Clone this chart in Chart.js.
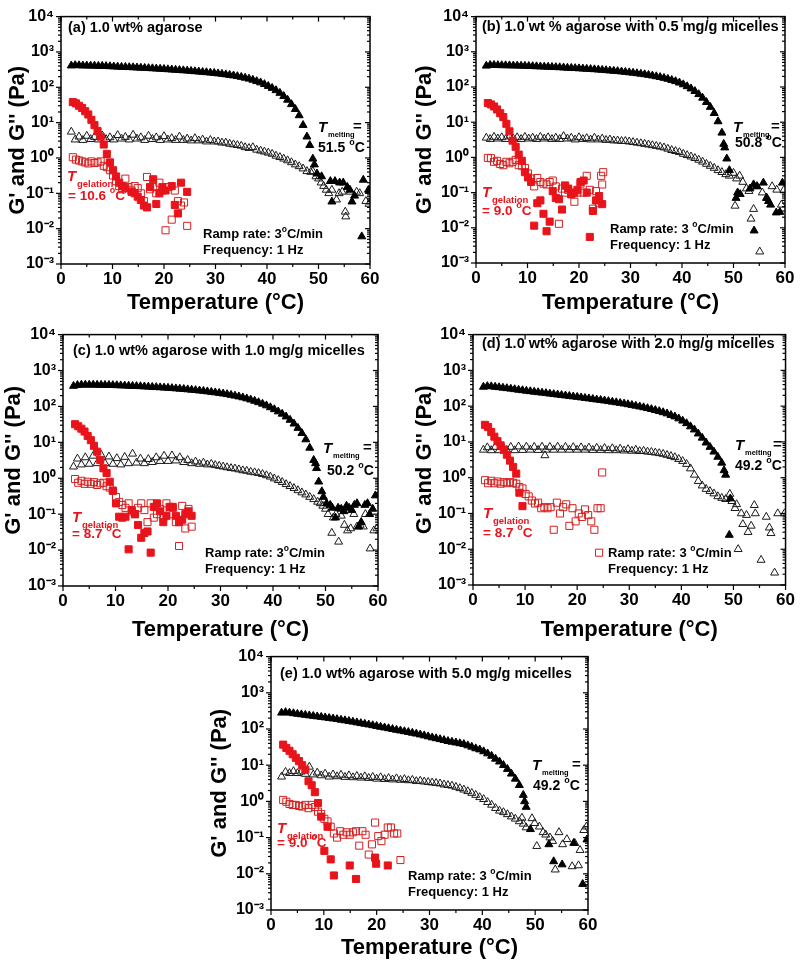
<!DOCTYPE html>
<html><head><meta charset="utf-8">
<script src="https://cdn.jsdelivr.net/npm/chart.js@4.4.1/dist/chart.umd.min.js"></script>
<style>
html,body{margin:0;padding:0;background:#fff;}
#wrap{position:relative;width:800px;height:962px;overflow:hidden;background:#fff;}
canvas{position:absolute;}
</style></head><body><div id="wrap">
<canvas id="ca" width="400" height="318" style="left:0px;top:0px"></canvas>
<canvas id="cb" width="395" height="318" style="left:405px;top:0px"></canvas>
<canvas id="cc" width="400" height="326" style="left:0px;top:318px"></canvas>
<canvas id="cd" width="395" height="326" style="left:405px;top:318px"></canvas>
<canvas id="ce" width="420" height="322" style="left:200px;top:640px"></canvas>
</div>
<script>
// ---------- shared axes / grids ----------
const denseTemps = [2,2.75,3.5,4.25,5,5.75,6.5,7.25,8,8.75,
 9.5,10.25,11,11.75,12.5,13.25,14,14.75,15.5,16.25,
 17,17.75,18.5,19.25,20,20.75,21.5,22.25,23,23.75,
 24.5,25.25,26,26.75,27.5,28.25,29,29.75,30.5,31.25,
 32,32.75,33.5,34.25,35,35.75,36.5,37.25,38,38.75,
 39.5,40.25,41,41.75,42.5,43.25,44,44.75,45.5,46.25,
 47,47.75];
const coolTemps = [2.3,2.9,3.5,4.1,4.7,5.3,5.9,6.5,7.1,7.7,
 8.3,8.9,9.5,10.1,10.7,11.3,11.9,12.5,13.1,13.7,
 14.3,14.9,15.5,16.1,16.7,17.3,17.9,18.5,19.1,19.7,
 20.3,20.9,21.5,22.1,22.7,23.3,23.9,24.5];
const xTickValues = [0,10,20,30,40,50,60];
const xMinorValues = [5,15,25,35,45,55];
const yTickValues = [1e-3,1e-2,1e-1,1,10,100,1000,10000];
const yTickLabels = ['10\u207B\u00B3','10\u207B\u00B2','10\u207B\u00B9','10\u2070','10\u00B9','10\u00B2','10\u00B3','10\u2074'];
const yMinorMultipliers = [2,3,4,5,6,7,8,9];

// ---------- panel (a) ----------
const aGpHeat = [410,420,415,410,410,405,405,400,400,395,
 390,385,380,375,372,368,364,360,355,350,
 346,341,336,331,326,320,315,310,304,299,
 294,288,282,276,270,264,258,252,245,238,
 230,222,214,205,195,185,174,162,148,136,
 122,108,95,82,69,56,44,33,24,16,
 8.5,4.0];
const aGppHeat = [5.5,3.3,4.0,3.2,4.2,3.4,3.9,3.3,4.3,3.4,
 3.8,3.3,4.4,3.5,3.9,3.3,4.5,3.5,3.8,3.2,
 4.2,3.4,3.8,3.2,4.1,3.3,3.6,3.2,4.0,3.2,
 3.5,3.1,3.6,3.1,3.3,2.9,3.2,2.9,2.9,2.7,
 2.7,2.5,2.4,2.3,2.2,2.0,1.9,2.0,1.7,1.6,
 1.5,1.4,1.3,1.15,1.05,0.95,0.85,0.75,0.65,0.58,
 0.5,0.42];
const aGpHeatTail = [[48.3,2.3],[48.9,0.95],[49.2,0.65],[49.7,0.36],[50.6,0.3],[52.3,0.22],[52.6,0.058],[53.2,0.22],[54.1,0.2],[54.8,0.2],[55.6,0.15],[56.1,0.125],[56.5,0.058],[57.0,0.085],[58.4,0.006],[58.7,0.24],[59.7,0.125],[60,0.12]];
const aGppHeatTail = [[48.5,0.4],[48.9,0.42],[49.5,0.3],[50.0,0.26],[50.5,0.2],[51.0,0.16],[51.5,0.125],[52.0,0.1],[52.6,0.125],[53.5,0.066],[54.0,0.1],[54.6,0.11],[55.2,0.03],[55.3,0.022],[56.2,0.11],[57.4,0.11],[58.0,0.1],[59.2,0.06],[59.8,0.05]];
const aGpCool = [38,35,30,26,21,17,12,8.5,5.8,4.0,
 2.4,1.3,0.75,0.45,0.3,0.2,0.16,0.14,null,0.11,
 0.1,0.08,0.065,0.045,0.04,0.15,0.25,0.05,0.1,0.15,
 0.12,null,0.16,0.047,0.027,0.2,null,0.11];
const aGppCool = [1.05,0.9,0.85,0.8,0.75,0.7,0.8,0.72,0.75,0.8,
 0.6,0.55,0.45,0.32,0.22,0.16,0.13,0.26,0.15,0.12,
 0.16,0.14,0.1,0.06,0.29,0.13,0.15,0.1,0.2,0.12,
 0.009,0.15,0.018,0.12,0.06,0.045,0.055,0.012];

// ---------- panel (b) ----------
const bGpHeat = [400,420,420,415,412,410,408,405,402,400,
 396,392,388,384,380,376,372,368,364,360,
 355,350,346,341,336,331,326,321,316,310,
 304,298,292,286,280,273,266,259,252,244,
 236,228,219,210,200,190,180,169,157,145,
 132,118,104,90,76,62,49,37,27,18,
 10.5,5.0];
const bGppHeat = [3.6,3.3,3.8,3.4,3.7,3.3,3.9,3.4,3.7,3.3,
 3.8,3.4,3.6,3.3,3.8,3.4,3.7,3.3,3.6,3.3,
 4.0,3.4,3.6,3.2,3.7,3.3,3.5,3.2,3.6,3.2,
 3.4,3.1,3.2,3.0,3.0,2.9,2.9,2.8,2.7,2.6,
 2.5,2.4,2.3,2.2,2.1,2.0,1.9,1.75,1.6,1.5,
 1.4,1.25,1.15,1.05,0.95,0.85,0.75,0.65,0.57,0.5,
 0.43,0.38];
const bGpHeatTail = [[48.1,2.4],[48.3,1.9],[48.7,0.92],[49.2,0.43],[50.5,0.07],[50.8,0.1],[51.3,0.09],[53.2,0.13],[53.9,0.17],[54.0,0.0083],[54.6,0.15],[55.8,0.19],[56.4,0.07],[56.8,0.057],[57.2,0.045],[58.3,0.027],[59.0,0.028],[59.5,0.19]];
const bGppHeatTail = [[48.5,0.33],[49.2,0.3],[50.0,0.36],[50.3,0.042],[50.6,0.25],[51.2,0.3],[51.8,0.2],[52.5,0.13],[53.0,0.11],[53.4,0.018],[53.9,0.034],[54.5,0.15],[55.1,0.0021],[55.6,0.1],[56.5,0.07],[57.5,0.15],[58.4,0.12],[59.3,0.045],[59.8,0.12]];
const bGpCool = [35,32,28,23,18,14,9,5.5,3.0,2.0,
 1.2,0.8,0.38,0.27,0.2,0.0115,0.05,0.06,0.025,0.008,
 0.015,0.11,0.07,0.065,0.033,0.16,0.13,0.09,0.1,0.12,
 0.2,0.22,0.1,0.0055,0.03,0.06,0.08,0.047];
const bGppCool = [0.97,0.95,0.75,0.8,0.65,0.6,0.75,0.68,0.75,0.85,
 0.6,0.58,0.5,0.35,0.25,0.15,0.26,0.2,0.18,0.17,
 0.2,0.22,0.15,0.013,0.13,0.1,0.12,0.09,0.055,0.1,
 0.18,0.1,0.3,0.12,0.035,0.11,0.05,0.17];
const bGppCoolExtra = [[24.7,0.38],[24.3,0.3]];

// ---------- panel (c) ----------
const cGpHeat = [370,390,400,400,400,400,398,396,394,392,
 390,386,382,378,374,370,366,362,357,352,
 347,342,337,332,327,321,315,309,303,296,
 289,282,275,268,260,252,244,236,227,218,
 208,198,188,177,166,154,142,130,118,106,
 94,83,72,62,52,42,33,25,18,12,
 7,3.2];
const cGppHeat = [2.1,3.5,2.4,3.8,2.5,4.2,2.6,4.5,2.6,4.0,
 2.5,3.6,2.4,3.9,2.6,4.8,2.7,3.5,2.6,3.4,
 2.8,3.8,3.0,4.2,3.0,4.3,3.1,3.8,2.8,3.2,
 2.6,2.9,2.5,2.7,2.4,2.5,2.3,2.2,2.1,2.0,
 1.9,1.85,1.75,1.65,1.6,1.5,1.45,1.38,1.3,1.2,
 1.1,0.98,0.88,0.78,0.68,0.6,0.53,0.46,0.4,0.35,
 0.3,0.26];
const cGpHeatTail = [[48.1,2.6],[48.3,1.9],[48.7,0.8],[49.3,0.43],[49.6,0.3],[50.2,0.2],[50.9,0.18],[51.3,0.15],[51.9,0.08],[52.4,0.15],[53.0,0.14],[53.5,0.12],[54.0,0.17],[54.5,0.15],[55.0,0.13],[55.5,0.18],[56.0,0.2],[56.3,0.045],[56.8,0.06],[57.5,0.18],[58.0,0.2],[58.4,0.1],[59.0,0.14],[59.5,0.33]];
const cGppHeatTail = [[48.5,0.22],[49.0,0.2],[49.5,0.17],[50.0,0.14],[50.5,0.1],[51.2,0.03],[51.5,0.08],[52.0,0.1],[52.5,0.017],[53.0,0.09],[53.6,0.05],[54.2,0.035],[54.8,0.04],[55.4,0.1],[56.0,0.045],[56.6,0.05],[57.2,0.045],[57.6,0.1],[58.5,0.011],[59.2,0.035],[59.8,0.04]];
const cGpCool = [32,28,24,20,15,11.5,8,5.5,3.2,1.9,
 1.4,0.8,0.45,0.2,0.085,0.08,0.085,0.0105,0.13,0.1,
 0.05,0.022,0.03,0.033,0.0085,0.16,0.2,0.12,0.06,0.09,
 0.16,0.16,0.09,0.06,0.07,0.1,0.12,0.09];
const cGppCool = [0.95,0.75,0.85,0.7,0.8,0.7,0.78,0.65,0.72,0.75,
 0.6,0.55,0.45,0.3,0.22,0.18,0.15,0.2,0.12,0.1,
 0.15,0.2,0.13,0.06,0.2,0.08,0.1,0.14,0.08,0.2,
 0.1,0.15,0.06,0.013,0.17,0.04,0.14,0.045];

// ---------- panel (d) ----------
const dGpHeat = [345,360,355,345,335,325,315,305,295,285,
 276,267,259,251,243,236,229,222,215,209,
 203,197,191,185,180,174,168,163,157,152,
 147,142,137,132,127,122,117,112,107,102,
 97,92,87,82,77,72,67,62,56,51,
 45,39,33,27,22,17,13,9.5,7.2,5.3,
 3.8,2.6];
const dGppHeat = [6.0,7.0,5.8,7.2,5.8,7.3,5.9,7.2,5.8,7.4,
 5.9,7.3,6.0,7.2,5.9,7.3,6.0,7.2,6.0,7.3,
 6.0,7.2,6.0,7.1,6.0,7.0,6.0,6.9,5.9,6.8,
 5.9,6.7,5.8,6.6,5.8,6.4,5.7,6.2,5.6,6.0,
 5.5,5.6,5.3,5.2,5.0,4.8,4.6,4.3,4.0,3.7,
 3.3,2.9,2.4,1.8,1.2,0.8,0.6,0.48,0.42,0.36,
 0.3,0.27];
const dGpHeatTail = [[48.2,1.6],[48.5,1.2],[49.2,0.025],[49.4,0.26]];
const dGppHeatTail = [[13.8,4.2],[48.5,0.25],[49.3,0.35],[49.7,0.22],[50.3,0.14],[50.6,0.18],[50.9,0.01],[51.5,0.1],[51.8,0.05],[52.5,0.09],[52.8,0.03],[53.4,0.045],[54.0,0.17],[54.2,0.1],[55.3,0.005],[56.3,0.08],[56.9,0.04],[57.2,0.028],[57.9,0.0022],[58.5,0.1],[59.8,0.1]];
const dGpCool = [30,26,19,14,10.5,8,6,4.4,3.0,2.0,
 1.3,0.38,0.16];
const dGppCool = [0.85,0.7,0.82,0.7,0.78,0.68,0.75,0.7,0.75,0.72,
 0.68,0.55,0.5,0.35,0.3,0.23,0.19,0.2,0.14,0.15,
 0.14,0.15,0.035,0.2,0.1,0.15,0.18,0.045,0.14,0.06,
 0.1,0.08,0.13,0.09,0.06,0.035,0.14,0.14];
const dGppCoolExtra = [[24.8,1.4],[24.2,0.008]];

// ---------- panel (e) ----------
const eGpHeat = [280,290,280,270,260,252,244,236,228,221,
 214,207,200,193,186,179,172,165,158,151,
 144,138,132,126,120,114,109,104,99,94,
 90,86,82,78,74,70,66,62,58,55,
 52,49,46,44,42,40,38,35,32,29,
 27,24,21,18,15,12.5,10,7.8,5.8,4.2,
 2.8,1.5];
const eGppHeat = [4.8,6.5,6.0,6.8,6.0,6.6,5.7,9.0,5.5,6.2,
 5.2,5.8,4.8,5.5,4.9,5.4,4.7,5.2,4.6,5.0,
 4.5,4.9,4.4,4.7,4.2,4.6,4.1,4.4,4.0,4.3,
 3.9,4.1,3.8,3.9,3.6,3.7,3.5,3.4,3.3,3.2,
 3.1,2.9,2.8,2.7,2.5,2.3,2.1,1.9,1.7,1.5,
 1.3,1.15,0.95,0.8,0.65,0.55,0.5,0.44,0.38,0.33,
 0.28,0.24];
const eGpHeatTail = [[48.0,1.0],[48.3,0.7],[49.1,0.17],[52.6,0.065],[53.5,0.022],[55.1,0.018],[57.3,0.071],[59.0,0.0052],[59.8,0.088]];
const eGppHeatTail = [[47.5,0.35],[48.3,0.19],[49.4,0.34],[49.9,0.25],[50.3,0.058],[50.8,0.2],[51.5,0.14],[52.0,0.12],[52.8,0.1],[53.3,0.08],[53.8,0.013],[54.5,0.14],[55.2,0.065],[56.0,0.09],[57.0,0.016],[57.5,0.07],[58.2,0.017],[58.5,0.045],[59.2,0.16],[59.7,0.2]];
const eGpCool = [37,30,25,20,16,13,10,7.5,3.6,2.8,
 1.8,0.9,0.38,0.043,0.2,0.025,0.009,null,null,null,
 null,0.017,null,0.0072,null,null,null,null,null,0.028,
 null,null,null,0.017];
const eGpCoolExtra = [[19.9,0.019]];
const eGppCool = [1.1,0.98,0.85,0.8,0.8,0.75,0.72,0.8,0.65,0.8,
 0.7,0.52,0.45,0.33,0.28,0.2,0.13,0.1,0.15,0.12,
 0.14,0.12,0.14,0.15,0.06,0.15,0.12,0.034,0.065,0.26,
 0.11,0.08,0.12,0.19,0.19,0.13,0.13,0.024];

// ---------- rendering ----------
const FONT = '"Liberation Sans", Arial, Helvetica, sans-serif';
const RED = '#e8141b';
const RED_OPEN = '#d42020';

function pts(xs, ys) { const o = []; ys.forEach((v, i) => { if (v != null) o.push({x: xs[i], y: v}); }); return o; }
function pairs(a) { return (a || []).map(([x, y]) => ({x, y})); }

function melt(x, y, eqX, vx, vy, val, col) {
  return [
    {x, y, col, runs: [['T', 15, 'i', 0]]},
    {x: x + 10, y: y + 5, col, runs: [['melting', 7.5, 'n', 0]]},
    {x: eqX, y: y - 1, col, runs: [['=', 15, 'n', 0]]},
    {x: vx, y: vy, col, runs: [[val + ' ', 14, 'n', 0], ['o', 9, 'n', -7], ['C', 14, 'n', 0]]}
  ];
}
function gel(x, y, vx, vy, val) {
  return [
    {x, y, col: RED, runs: [['T', 15, 'i', 0]]},
    {x: x + 10, y: y + 6, col: RED, runs: [['gelation', 9.5, 'n', 0]]},
    {x: vx, y: vy, col: RED, runs: [['= ' + val + ' ', 13.5, 'n', 0], ['o', 9, 'n', -7], ['C', 13.5, 'n', 0]]}
  ];
}
function ramp(x, y, sp) {
  return [
    {x, y, col: '#000', runs: [['Ramp rate: 3' + (sp ? ' ' : ''), 13, 'n', 0], ['o', 8.5, 'n', -6], ['C/min', 13, 'n', 0]]},
    {x, y: y + 16, col: '#000', runs: [['Frequency: 1 Hz', 13, 'n', 0]]}
  ];
}
function title(x, y, t) { return [{x, y, col: '#000', runs: [[t, 14.5, 'n', 0]]}]; }

const panels = [
  {id: 'ca', L: 0, T: 0, H: 318, pad: {left: 0, top: 13, right: 30, bottom: 0}, yW: 61, xH: 54, ytp: 5, xtp: 2,
   gp: aGpHeat, gpp: aGppHeat, gpT: aGpHeatTail, gppT: aGppHeatTail, gc: aGpCool, gpc: aGppCool, gcx: [], gpcx: [],
   notes: [].concat(title(68, 32, '(a) 1.0 wt% agarose'), melt(318, 132, 353, 318, 152, '51.5', '#000'),
     gel(67, 181, 68, 200, '10.6'), ramp(203, 238, false))},
  {id: 'cb', L: 405, T: 0, H: 318, pad: {left: 0, top: 12, right: 15, bottom: 0}, yW: 71, xH: 55, ytp: 7, xtp: 2,
   gp: bGpHeat, gpp: bGppHeat, gpT: bGpHeatTail, gppT: bGppHeatTail, gc: bGpCool, gpc: bGppCool, gcx: [], gpcx: bGppCoolExtra,
   notes: [].concat(title(482, 31, '(b) 1.0 wt % agarose with 0.5 mg/g micelles'), melt(733, 132, 771, 735, 147, '50.8', '#000'),
     gel(482, 197, 482, 215, '9.0'), ramp(610, 233, true))},
  {id: 'cc', L: 0, T: 318, H: 326, pad: {left: 0, top: 13, right: 22, bottom: 0}, yW: 63, xH: 58, ytp: 1, xtp: 1,
   gp: cGpHeat, gpp: cGppHeat, gpT: cGpHeatTail, gppT: cGppHeatTail, gc: cGpCool, gpc: cGppCool, gcx: [], gpcx: [],
   notes: [].concat(title(73, 355, '(c) 1.0 wt% agarose with 1.0 mg/g micelles'), melt(323, 453, 363, 327, 475, '50.2', '#000'),
     gel(72, 522, 72, 538, '8.7'), ramp(205, 557, false))},
  {id: 'cd', L: 405, T: 318, H: 326, pad: {left: 0, top: 9, right: 12, bottom: 0}, yW: 68, xH: 59, ytp: 7, xtp: 1,
   gp: dGpHeat, gpp: dGppHeat, gpT: dGpHeatTail, gppT: dGppHeatTail, gc: dGpCool, gpc: dGppCool, gcx: [], gpcx: dGppCoolExtra,
   notes: [].concat(title(482, 348, '(d) 1.0 wt% agarose with 2.0 mg/g micelles'), melt(735, 450, 773, 735, 470, '49.2', '#000'),
     gel(483, 518, 483, 537, '8.7'), ramp(608, 557, true))},
  {id: 'ce', L: 200, T: 640, H: 322, pad: {left: 0, top: 13, right: 32, bottom: 0}, yW: 71, xH: 52, ytp: 7, xtp: 1,
   gp: eGpHeat, gpp: eGppHeat, gpT: eGpHeatTail, gppT: eGppHeatTail, gc: eGpCool, gpc: eGppCool, gcx: eGpCoolExtra, gpcx: [],
   notes: [].concat(title(280, 678, '(e) 1.0 wt% agarose with 5.0 mg/g micelles'), melt(532, 770, 572, 533, 790, '49.2', '#000'),
     gel(277, 833, 277, 847, '9.0'), ramp(408, 880, true))}
];

const decorPlugin = {
  id: 'decor',
  afterDraw(chart) {
    const p = chart.options.plugins.decor.panel;
    const {ctx, chartArea: a, scales: {x, y}} = chart;
    ctx.save();
    ctx.strokeStyle = '#000';
    ctx.lineWidth = 1.5;
    ctx.strokeRect(a.left, a.top, a.right - a.left, a.bottom - a.top);
    ctx.lineWidth = 1.2;
    const ln = (x1, y1, x2, y2) => { ctx.beginPath(); ctx.moveTo(x1, y1); ctx.lineTo(x2, y2); ctx.stroke(); };
    xTickValues.forEach(t => { const px = x.getPixelForValue(t); ln(px, a.bottom, px, a.bottom + 5); ln(px, a.top, px, a.top + 5); });
    xMinorValues.forEach(t => { const px = x.getPixelForValue(t); ln(px, a.bottom, px, a.bottom + 3); ln(px, a.top, px, a.top + 3); });
    yTickValues.forEach(v => {
      const py = y.getPixelForValue(v);
      ln(a.left - 5, py, a.left, py); ln(a.right - 5, py, a.right, py);
      if (v < 1e4) yMinorMultipliers.forEach(m => {
        const q = y.getPixelForValue(v * m);
        ln(a.left - 3, q, a.left, q); ln(a.right - 3, q, a.right, q);
      });
    });
    ctx.textBaseline = 'alphabetic';
    ctx.textAlign = 'left';
    p.notes.forEach(n => {
      let cx = n.x - p.L;
      const cy = n.y - p.T;
      ctx.fillStyle = n.col;
      n.runs.forEach(([t, size, st, dy]) => {
        ctx.font = (st === 'i' ? 'italic ' : '') + 'bold ' + size + 'px ' + FONT;
        ctx.fillText(t, cx, cy + dy);
        cx += ctx.measureText(t).width;
      });
    });
    ctx.restore();
  }
};

panels.forEach(p => {
  const datasets = [
    {label: "G' cooling", data: pts(coolTemps, p.gc).concat(pairs(p.gcx)), pointStyle: 'rect', pointRadius: 5,
     backgroundColor: RED, borderColor: RED, borderWidth: 1, order: 0},
    {label: "G'' cooling", data: pts(coolTemps, p.gpc).concat(pairs(p.gpcx)), pointStyle: 'rect', pointRadius: 5,
     backgroundColor: 'rgba(0,0,0,0)', borderColor: RED_OPEN, borderWidth: 1, order: 1},
    {label: "G' heating", data: pts(denseTemps, p.gp).concat(pairs(p.gpT)), pointStyle: 'triangle', pointRadius: 4.6,
     backgroundColor: '#000', borderColor: '#000', borderWidth: 1, order: 2},
    {label: "G'' heating", data: pts(denseTemps, p.gpp).concat(pairs(p.gppT)), pointStyle: 'triangle', pointRadius: 4.6,
     backgroundColor: 'rgba(0,0,0,0)', borderColor: '#1a1a1a', borderWidth: 1, order: 3}
  ];
  new Chart(document.getElementById(p.id), {
    type: 'scatter',
    data: {datasets},
    plugins: [decorPlugin],
    options: {
      responsive: false, animation: false, events: [],
      layout: {padding: p.pad},
      plugins: {legend: {display: false}, tooltip: {enabled: false}, decor: {panel: p}},
      elements: {point: {hoverRadius: 0}},
      scales: {
        x: {
          type: 'linear', min: 0, max: 60,
          afterBuildTicks: s => { s.ticks = xTickValues.map(v => ({value: v})); },
          afterFit: s => { s.height = p.xH; },
          grid: {display: false, drawTicks: false}, border: {display: false},
          ticks: {color: '#000', padding: 5, maxRotation: 0, autoSkip: false, font: {family: FONT, size: 17, weight: 'bold'}},
          title: {display: true, text: 'Temperature (\u00B0C)', color: '#000', padding: {top: 0, bottom: p.xtp}, font: {family: FONT, size: 22, weight: 'bold'}}
        },
        y: {
          type: 'logarithmic', min: 1e-3, max: 1e4,
          afterBuildTicks: s => { s.ticks = yTickValues.map(v => ({value: v})); },
          afterFit: s => { s.width = p.yW; },
          grid: {display: false, drawTicks: false}, border: {display: false},
          ticks: {color: '#000', padding: 7, autoSkip: false, font: {family: FONT, size: 16, weight: 'bold'},
            callback: v => { const i = yTickValues.findIndex(t => Math.abs(Math.log10(t) - Math.log10(v)) < 1e-6); return i >= 0 ? yTickLabels[i] : ''; }},
          title: {display: true, text: "G' and G'' (Pa)", color: '#000', padding: {top: p.ytp, bottom: 0}, font: {family: FONT, size: 22, weight: 'bold'}}
        }
      }
    }
  });
});
</script></body></html>
